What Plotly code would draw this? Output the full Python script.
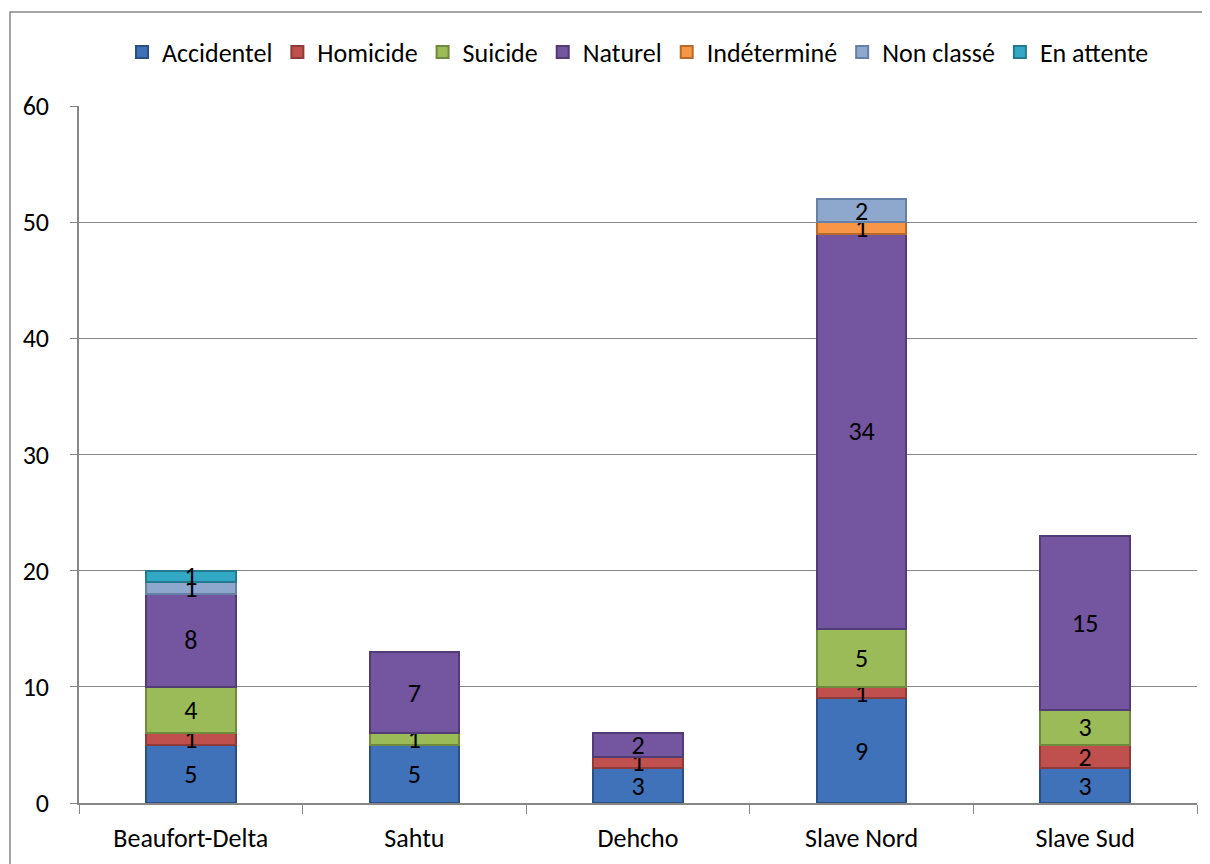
import plotly.graph_objects as go

regions = ["Beaufort-Delta", "Sahtu", "Dehcho", "Slave Nord", "Slave Sud"]
series_names = ["Accidentel", "Homicide", "Suicide", "Naturel", "Indéterminé", "Non classé", "En attente"]
accidentel = [5, 5, 3, 9, 3]
homicide = [1, 0, 1, 1, 2]
suicide = [4, 1, 0, 5, 3]
naturel = [8, 7, 2, 34, 15]
indetermine = [0, 0, 0, 1, 0]
non_classe = [1, 0, 0, 2, 0]
en_attente = [1, 0, 0, 0, 0]
y_ticks = [0, 10, 20, 30, 40, 50, 60]

series_values = [accidentel, homicide, suicide, naturel, indetermine, non_classe, en_attente]
colors = ["#3F72B9", "#C0504D", "#9BBB59", "#7455A0", "#F79646", "#8EA7CD", "#33A8C4"]
edges = ["#2B4F82", "#8E3A38", "#6F8A3C", "#523C75", "#B86A2A", "#6780A8", "#237A8F"]

fig = go.Figure()
for name, vals, c, e in zip(series_names, series_values, colors, edges):
    yv = [v if v else None for v in vals]
    tx = [str(v) if v else "" for v in vals]
    fig.add_trace(go.Bar(
        x=regions, y=yv, name=name, text=tx,
        textposition="inside", insidetextanchor="middle", textangle=0,
        constraintext="none",
        textfont=dict(color="black", size=26),
        marker=dict(color=c, line=dict(color=e, width=2)),
        width=0.4,
    ))

fig.update_layout(
    barmode="stack",
    width=1210, height=864,
    margin=dict(l=71, r=21, t=98, b=69),
    paper_bgcolor="white", plot_bgcolor="white",
    font=dict(family="Carlito, Lato, Calibri, sans-serif", size=26, color="black"),
    uniformtext=dict(minsize=26, mode="show"),
    legend=dict(orientation="h", x=0.5, xanchor="center", y=1.0775, yanchor="middle",
                font=dict(size=26), itemwidth=30, traceorder="normal"),
    showlegend=True,
)
fig.update_xaxes(showline=True, linecolor="#868686", linewidth=1.5,
                 ticks="outside", tickson="boundaries", ticklen=9, tickcolor="#868686",
                 tickfont=dict(size=26), showgrid=False, ticklabelstandoff=11)
fig.update_yaxes(range=[0, 60], tickvals=y_ticks, showline=True, linecolor="#868686", linewidth=1.5,
                 ticks="outside", ticklen=7, tickcolor="#868686",
                 showgrid=True, gridcolor="#868686", gridwidth=1,
                 tickfont=dict(size=26), zeroline=False, ticklabelstandoff=16)

fig.add_shape(type="rect", xref="paper", yref="paper",
              x0=-0.0617, x1=1.06, y0=-0.2, y1=1.1349,
              line=dict(color="#868686", width=1.5), fillcolor="rgba(0,0,0,0)")

fig.write_html("out.html")
